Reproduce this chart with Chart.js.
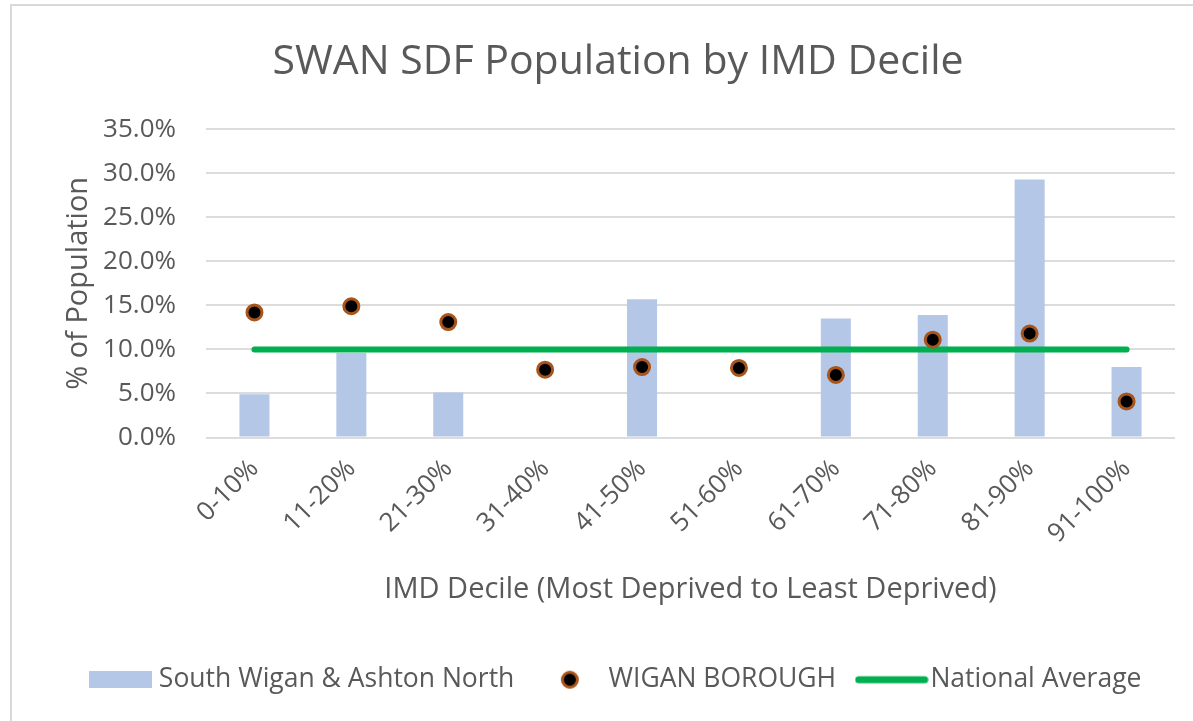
<!DOCTYPE html>
<html>
<head>
<meta charset="utf-8">
<script src="https://cdn.jsdelivr.net/npm/chart.js@4"></script>
<style>
    html, body { margin: 0; padding: 0; background: #fff; overflow: hidden; }
    #frame {
        position: absolute; left: 10px; top: 4px;
        width: 1300px; height: 900px;
        border: 2px solid #D9D9D9;
    }
    #wrap { position: absolute; left: 34px; top: 0; width: 1159px; height: 721px; }
</style>
</head>
<body>
<div id="frame"></div>
<div id="wrap"><canvas id="imd-chart"></canvas></div>
<script>
// Chart data
const deciles = ['0-10%', '11-20%', '21-30%', '31-40%', '41-50%', '51-60%', '61-70%', '71-80%', '81-90%', '91-100%'];
const southWigan = [4.9, 9.6, 5.1, 0, 15.7, 0, 13.5, 13.9, 29.3, 8.0];
const wiganBorough = [14.2, 14.9, 13.1, 7.7, 8.0, 7.9, 7.1, 11.1, 11.8, 4.1];
const nationalAverage = [10, 10, 10, 10, 10, 10, 10, 10, 10, 10];
const yTicks = [0, 5, 10, 15, 20, 25, 30, 35];

const colors = {
    bar: '#B4C7E7',
    dot: '#000000',
    dotEdge: '#A8551C',
    line: '#00B050',
    text: '#595959',
    grid: '#DCDCDC'
};

Chart.defaults.font.family = "'Open Sans', sans-serif";
Chart.defaults.color = colors.text;

// Small canvases used as legend markers
function makeMarker(w, h, draw) {
    const c = document.createElement('canvas');
    c.width = w;
    c.height = h;
    draw(c.getContext('2d'));
    return c;
}

const barMarker = makeMarker(63, 17, ctx => {
    ctx.fillStyle = colors.bar;
    ctx.fillRect(0, 0, 63, 17);
});
const dotMarker = makeMarker(20, 20, ctx => {
    ctx.beginPath();
    ctx.arc(10, 10, 7.5, 0, Math.PI * 2);
    ctx.fillStyle = colors.dot;
    ctx.fill();
    ctx.lineWidth = 3;
    ctx.strokeStyle = colors.dotEdge;
    ctx.stroke();
});
const lineMarker = makeMarker(74, 10, ctx => {
    ctx.beginPath();
    ctx.moveTo(4, 5);
    ctx.lineTo(70, 5);
    ctx.lineWidth = 7;
    ctx.lineCap = 'round';
    ctx.strokeStyle = colors.line;
    ctx.stroke();
});
const markers = [barMarker, dotMarker, lineMarker];

const ctx = document.getElementById('imd-chart').getContext('2d');
new Chart(ctx, {
    type: 'bar',
    data: {
        labels: deciles,
        datasets: [
            {
                label: 'South Wigan & Ashton North',
                data: southWigan,
                backgroundColor: colors.bar,
                barPercentage: 0.31,
                categoryPercentage: 1,
                order: 3
            },
            {
                type: 'line',
                label: 'WIGAN BOROUGH',
                data: wiganBorough,
                showLine: false,
                pointRadius: 7.5,
                pointBorderWidth: 3,
                pointBackgroundColor: colors.dot,
                pointBorderColor: colors.dotEdge,
                order: 1
            },
            {
                type: 'line',
                label: 'National Average',
                data: nationalAverage,
                borderColor: colors.line,
                borderWidth: 6,
                borderCapStyle: 'round',
                pointRadius: 0,
                tension: 0,
                order: 2
            }
        ]
    },
    options: {
        responsive: true,
        maintainAspectRatio: false,
        animation: false,
        layout: {
            padding: { left: 27, right: 18, top: 0, bottom: 18 }
        },
        plugins: {
            title: {
                display: true,
                text: 'SWAN SDF Population by IMD Decile',
                color: colors.text,
                font: { size: 41, weight: 'normal' },
                padding: { top: 38, bottom: 42 }
            },
            legend: {
                position: 'bottom',
                labels: {
                    usePointStyle: true,
                    pointStyleWidth: 51,
                    padding: 30,
                    color: colors.text,
                    font: { size: 26.5 },
                    generateLabels: function(chart) {
                        return chart.data.datasets.map((ds, i) => ({
                            text: ds.label,
                            pointStyle: markers[i],
                            fillStyle: 'transparent',
                            strokeStyle: 'transparent',
                            lineWidth: 0,
                            fontColor: colors.text,
                            hidden: false,
                            datasetIndex: i
                        }));
                    }
                }
            },
            tooltip: { enabled: false }
        },
        scales: {
            x: {
                grid: { display: false },
                border: { display: false },
                ticks: {
                    autoSkip: false,
                    minRotation: 45,
                    maxRotation: 45,
                    padding: 8,
                    color: colors.text,
                    font: { size: 26 }
                },
                title: {
                    display: true,
                    text: 'IMD Decile (Most Deprived to Least Deprived)',
                    color: colors.text,
                    font: { size: 29 },
                    padding: { top: 0, bottom: 29 }
                },
                afterFit: function(scale) {
                    scale.height = 199;
                }
            },
            y: {
                min: 0,
                max: 35,
                grid: {
                    color: colors.grid,
                    lineWidth: 2,
                    drawTicks: false
                },
                border: { display: false },
                afterBuildTicks: function(scale) {
                    scale.ticks = yTicks.map(v => ({ value: v }));
                },
                ticks: {
                    padding: 30,
                    color: colors.text,
                    font: { size: 26 },
                    callback: function(value) {
                        return value.toFixed(1) + '%';
                    }
                },
                title: {
                    display: true,
                    text: '% of Population',
                    color: colors.text,
                    font: { size: 29 },
                    padding: { top: 0, bottom: 0 }
                },
                afterFit: function(scale) {
                    scale.width = 145;
                }
            }
        }
    }
});
</script>
</body>
</html>
